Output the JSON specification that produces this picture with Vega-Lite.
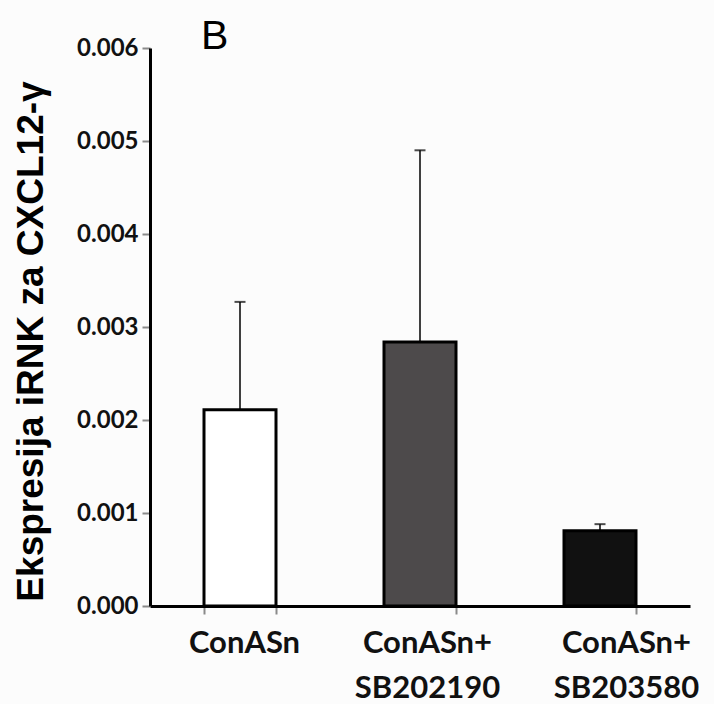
{
  "$schema": "https://vega.github.io/schema/vega-lite/v6.json",
  "width": 540,
  "height": 558,
  "autosize": "none",
  "padding": {"left": 150, "top": 48, "right": 24, "bottom": 98},
  "background": "#fcfcfc",
  "title": {
    "text": "B",
    "anchor": "start",
    "frame": "group",
    "dx": 51,
    "dy": 54,
    "offset": 0,
    "baseline": "alphabetic",
    "font": "Liberation Sans",
    "fontSize": 41,
    "fontWeight": "normal",
    "color": "#000000"
  },
  "data": {
    "values": [
      {"group": "ConASn", "value": 0.00211, "upper": 0.00327},
      {"group": "ConASn+ SB202190", "value": 0.00284, "upper": 0.00490},
      {"group": "ConASn+ SB203580", "value": 0.00081, "upper": 0.00088}
    ]
  },
  "config": {
    "view": {"stroke": null},
    "axis": {"grid": false}
  },
  "encoding": {
    "x": {
      "field": "group",
      "type": "nominal",
      "sort": null,
      "scale": {"paddingInner": 0.6, "paddingOuter": 0.3},
      "axis": {
        "title": null,
        "labelAngle": 0,
        "labelExpr": "split(datum.label, ' ')",
        "labelFont": "Lato",
        "labelFontWeight": "bold",
        "labelFontSize": 31,
        "labelLineHeight": 45,
        "labelColor": "#111111",
        "labelPadding": 14,
        "labelOffset": {"expr": "datum.value === 'ConASn+ SB203580' ? 26 : (datum.value === 'ConASn+ SB202190' ? 7 : 4)"},
        "tickBand": "extent",
        "tickColor": "#8a8a8a",
        "tickWidth": 2,
        "tickSize": 8,
        "domainColor": "#000000",
        "domainWidth": 3
      }
    },
    "y": {
      "field": "value",
      "type": "quantitative",
      "scale": {"domain": [0, 0.006], "nice": false},
      "axis": {
        "title": "Ekspresija iRNK za CXCL12-γ",
        "titleFont": "Liberation Sans",
        "titleFontSize": 37,
        "titleFontWeight": "bold",
        "titleColor": "#000000",
        "titleX": -108,
        "titleY": 293,
        "titleAlign": "center",
        "titleBaseline": "alphabetic",
        "titleAngle": -90,
        "values": [0, 0.001, 0.002, 0.003, 0.004, 0.005, 0.006],
        "format": ".3f",
        "labelFont": "Lato",
        "labelFontWeight": "bold",
        "labelFontSize": 24,
        "labelColor": "#111111",
        "labelPadding": 4,
        "tickColor": "#8a8a8a",
        "tickWidth": 2,
        "tickSize": 8,
        "domainColor": "#000000",
        "domainWidth": 3
      }
    }
  },
  "layer": [
    {
      "mark": {"type": "rule", "color": "#000000", "strokeWidth": 1.5},
      "encoding": {"y2": {"field": "upper"}}
    },
    {
      "mark": {"type": "tick", "color": "#000000", "size": 11, "thickness": 2},
      "encoding": {"y": {"field": "upper", "type": "quantitative"}}
    },
    {
      "mark": {"type": "bar", "stroke": "#000000", "strokeWidth": 3},
      "encoding": {
        "color": {
          "field": "group",
          "type": "nominal",
          "scale": {"domain": ["ConASn", "ConASn+ SB202190", "ConASn+ SB203580"], "range": ["#ffffff", "#4d4a4b", "#111111"]},
          "legend": null
        }
      }
    }
  ]
}
